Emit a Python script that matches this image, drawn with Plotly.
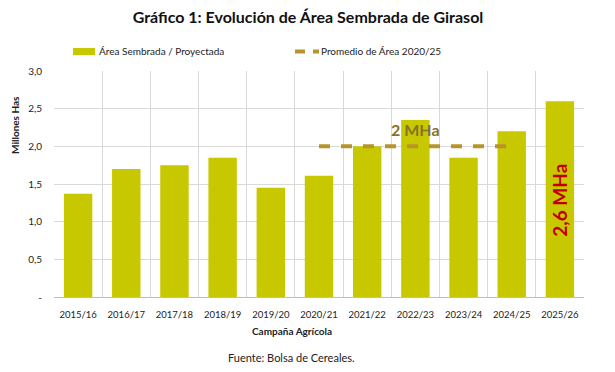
import plotly.graph_objects as go

campanias = ["2015/16", "2016/17", "2017/18", "2018/19", "2019/20", "2020/21",
             "2021/22", "2022/23", "2023/24", "2024/25", "2025/26"]
area = [1.37, 1.70, 1.75, 1.85, 1.45, 1.61, 2.00, 2.35, 1.85, 2.20, 2.60]
prom_campanias = ["2020/21", "2021/22", "2022/23", "2023/24", "2024/25"]
promedio = [2.0, 2.0, 2.0, 2.0, 2.0]
y_ticks = [0, 0.5, 1.0, 1.5, 2.0, 2.5, 3.0]
y_ticktext = ["-", "0,5", "1,0", "1,5", "2,0", "2,5", "3,0"]

FONT = "Lato"
BAR = "#C8C800"
LINE = "#B8952A"
TXT = "#222222"

# The page body has a default 8px margin, so the figure is drawn 8px in from
# the window's top-left corner; size it so it fits inside the 615x372 window.
OFF = 8
W, H = 615 - OFF, 372 - OFF
# plot area in window pixels
PL, PR, PT, PB = 54, 584, 71, 297
L, T = PL - OFF, PT - OFF
R, B = W - (PR - OFF), H - (PB - OFF)
PW, PH = PR - PL, PB - PT
def px(x): return (x - PL) / PW
def py(y): return (PB - y) / PH

fig = go.Figure()
fig.add_trace(go.Bar(x=campanias, y=area, name="Área Sembrada / Proyectada",
                     marker=dict(color=BAR, line=dict(width=0)), showlegend=False))
fig.add_trace(go.Scatter(x=prom_campanias, y=promedio, mode="lines",
                         name="Promedio de Área 2020/25", showlegend=False,
                         line=dict(color=LINE, width=4, dash="11px,11px")))

fig.add_annotation(x="2022/23", y=2.22, text="<b>2 MHa</b>", showarrow=False,
                   xanchor="center", yanchor="middle",
                   font=dict(family=FONT, size=16, color="#857320"))
fig.add_annotation(x="2025/26", y=1.29, text="<b>2,6 MHa</b>", showarrow=False,
                   xanchor="center", yanchor="middle", textangle=-90,
                   font=dict(family=FONT, size=19, color="#C00000"))

# legend (drawn manually to mimic the wide bar swatch)
fig.add_shape(type="rect", xref="paper", yref="paper",
              x0=px(73), x1=px(95), y0=py(55), y1=py(48),
              fillcolor=BAR, line=dict(width=0))
fig.add_annotation(xref="paper", yref="paper", x=px(97), y=py(51.5),
                   xanchor="left", yanchor="middle",
                   text="Área Sembrada / Proyectada", showarrow=False,
                   font=dict(family=FONT, size=10, color=TXT))
fig.add_shape(type="line", xref="paper", yref="paper",
              x0=px(295), x1=px(305), y0=py(51.5), y1=py(51.5),
              line=dict(color=LINE, width=4))
fig.add_shape(type="line", xref="paper", yref="paper",
              x0=px(313), x1=px(319), y0=py(51.5), y1=py(51.5),
              line=dict(color=LINE, width=4))
fig.add_annotation(xref="paper", yref="paper", x=px(319), y=py(51.5),
                   xanchor="left", yanchor="middle",
                   text="Promedio de Área 2020/25", showarrow=False,
                   font=dict(family=FONT, size=10, color=TXT))

# axis titles and source
fig.add_annotation(xref="paper", yref="paper", x=px(15), y=py(125),
                   xanchor="center", yanchor="middle",
                   text="<b>Millones Has</b>", textangle=-90, showarrow=False,
                   font=dict(family=FONT, size=10, color=TXT))
fig.add_annotation(xref="paper", yref="paper", x=px(292), y=py(331),
                   xanchor="center", yanchor="middle",
                   text="<b>Campaña Agrícola</b>", showarrow=False,
                   font=dict(family=FONT, size=10, color=TXT))
fig.add_annotation(xref="paper", yref="paper", x=px(291), y=py(357.5),
                   xanchor="center", yanchor="middle",
                   text="Fuente: Bolsa de Cereales.", showarrow=False,
                   font=dict(family=FONT, size=11, color=TXT))

fig.update_layout(
    width=W, height=H,
    margin=dict(l=L, r=R, t=T, b=B, pad=0),
    paper_bgcolor="white", plot_bgcolor="white",
    font=dict(family=FONT, size=10, color=TXT),
    title=dict(text="<b>Gráfico 1: Evolución de Área Sembrada de Girasol</b>",
               x=px(308), xanchor="center", xref="paper",
               y=1 - (17 - OFF) / H, yanchor="middle",
               font=dict(family=FONT, size=16, color="#111")),
    bargap=0.41,
    showlegend=False,
    xaxis=dict(type="category", tickson="boundaries", showgrid=True, gridcolor="#D9D9D9",
               showline=True, linecolor="#BFBFBF", ticks="", tickangle=0,
               ticklabelstandoff=9, tickfont=dict(size=9.5), automargin=False),
    yaxis=dict(range=[0, 3.0], tickvals=y_ticks, ticktext=y_ticktext,
               showgrid=True, gridcolor="#D9D9D9", zeroline=False, showline=False,
               ticks="", ticklabelstandoff=11, tickfont=dict(size=10), automargin=False),
)

fig.write_html("out.html")
